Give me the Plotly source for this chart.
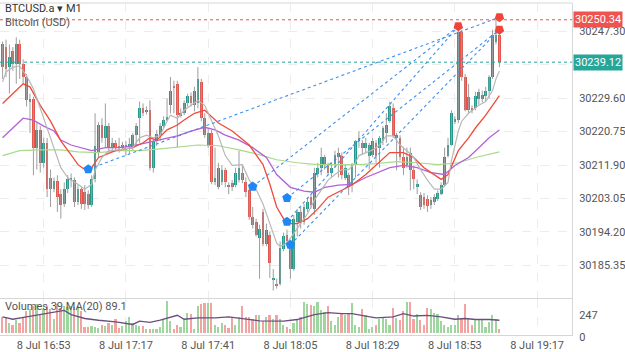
import pandas as pd
import plotly.graph_objects as go

START = "2023-07-08 16:41"

opens = [30243.8,30243.1,30237.8,30242.0,30238.6,30243.8,30238.6,30235.2,30228.7,30229.5,
30216.5,30221.2,30212.5,30217.8,30208.6,30205.5,30207.6,30204.2,30201.6,30205.5,
30207.9,30207.9,30202.1,30205.5,30204.7,30204.2,30201.3,30208.1,30215.2,30222.5,
30219.1,30222.2,30216.5,30217.8,30217.0,30216.5,30216.7,30217.0,30216.5,30219.8,
30224.3,30227.1,30226.1,30226.4,30211.2,30218.3,30219.6,30222.2,30223.8,30227.7,
30232.9,30233.4,30225.1,30225.6,30228.2,30230.3,30227.7,30228.2,30233.9,30224.3,
30217.0,30220.4,30207.3,30206.0,30207.3,30210.5,30206.6,30207.1,30206.6,30207.9,
30209.9,30207.3,30205.2,30198.2,30196.9,30192.5,30199.5,30190.9,30193.5,30181.5,
30180.5,30180.5,30189.6,30193.5,30189.9,30184.4,30196.9,30199.5,30196.9,30200.3,
30203.4,30200.3,30209.4,30211.2,30211.8,30211.8,30209.9,30212.0,30213.9,30214.4,
30208.6,30209.2,30206.6,30211.8,30218.3,30217.8,30216.5,30214.4,30214.6,30217.8,
30216.5,30218.3,30220.4,30223.5,30226.9,30219.1,30219.1,30213.9,30211.8,30215.2,
30210.7,30206.0,30203.9,30203.4,30202.9,30201.3,30202.1,30202.9,30204.2,30206.6,
30214.4,30217.2,30223.5,30223.8,30247.2,30235.2,30230.0,30226.9,30226.9,30229.5,
30229.5,30230.3,30231.6,30235.2,30244.4,30246.4]
highs = [30244.6,30245.1,30243.8,30243.1,30245.7,30245.1,30239.9,30236.0,30230.8,30230.0,
30223.0,30222.2,30219.1,30219.1,30210.7,30208.6,30209.2,30205.5,30207.3,30209.2,
30209.7,30208.6,30206.6,30206.0,30206.6,30205.2,30209.2,30225.6,30223.2,30224.3,
30228.2,30223.0,30219.1,30218.5,30219.1,30218.0,30218.3,30219.1,30220.4,30223.0,
30228.7,30228.2,30227.4,30229.0,30219.1,30221.2,30223.0,30224.8,30229.5,30235.2,
30234.2,30234.2,30226.9,30229.0,30230.8,30231.1,30232.6,30237.8,30234.7,30225.6,
30221.7,30221.2,30216.5,30212.5,30211.8,30211.2,30207.3,30207.9,30211.2,30215.7,
30211.8,30208.6,30206.0,30200.8,30197.7,30196.1,30200.3,30196.4,30194.3,30184.4,
30181.8,30191.7,30194.0,30194.8,30191.2,30198.7,30200.3,30200.8,30201.6,30203.4,
30204.2,30211.2,30212.5,30216.5,30214.6,30212.5,30212.5,30215.7,30216.5,30215.2,
30212.0,30209.9,30212.5,30218.5,30220.9,30218.5,30219.1,30217.8,30219.1,30218.5,
30219.6,30222.2,30225.6,30228.7,30228.2,30220.4,30219.8,30216.5,30216.5,30216.5,
30211.8,30208.1,30204.7,30204.5,30203.9,30203.4,30204.2,30205.2,30207.3,30216.5,
30219.1,30226.4,30224.8,30247.7,30247.7,30236.0,30233.4,30227.7,30231.3,30232.1,
30231.6,30232.6,30235.7,30247.7,30250.34,30247.7]
lows = [30234.7,30235.2,30230.8,30236.8,30233.4,30234.7,30233.4,30227.4,30220.4,30209.2,
30210.7,30209.9,30211.2,30203.4,30200.8,30204.7,30199.5,30197.7,30200.8,30204.5,
30206.0,30200.8,30201.3,30200.3,30200.0,30200.3,30200.8,30207.3,30213.9,30217.8,
30216.5,30215.2,30215.9,30215.7,30215.2,30215.9,30214.4,30214.9,30215.7,30217.2,
30217.8,30224.8,30225.3,30210.5,30209.9,30217.0,30218.3,30221.7,30223.5,30225.6,
30225.6,30216.5,30224.5,30225.1,30227.4,30227.4,30226.1,30226.9,30223.5,30219.1,
30216.5,30206.8,30206.6,30205.5,30206.6,30206.0,30204.2,30205.0,30206.0,30207.3,
30207.1,30203.4,30197.4,30195.1,30193.0,30181.8,30190.4,30190.4,30182.0,30178.7,
30179.2,30180.0,30189.1,30190.4,30181.8,30183.9,30193.0,30195.1,30196.1,30199.5,
30200.3,30198.7,30208.6,30209.2,30210.7,30209.2,30208.6,30211.2,30208.6,30208.1,
30207.9,30203.9,30204.7,30208.6,30216.5,30214.6,30215.2,30210.7,30213.9,30212.5,
30211.2,30217.2,30217.8,30223.0,30219.1,30210.5,30213.1,30209.2,30211.2,30205.2,
30205.5,30204.2,30200.0,30200.3,30199.5,30200.3,30201.3,30202.4,30203.9,30206.0,
30213.9,30217.0,30222.7,30223.0,30234.2,30226.1,30225.6,30225.6,30226.4,30227.9,
30228.5,30228.7,30229.5,30234.7,30243.8,30237.8]
closes = [30237.8,30237.3,30240.4,30238.6,30243.8,30238.6,30235.2,30229.0,30229.5,30216.5,
30221.2,30212.5,30217.8,30205.5,30205.5,30207.6,30203.4,30201.3,30205.5,30208.1,
30208.6,30202.1,30205.5,30201.6,30201.6,30201.3,30208.1,30217.0,30222.5,30219.1,
30222.2,30216.5,30217.8,30216.5,30216.5,30217.2,30217.2,30217.5,30219.8,30222.2,
30227.1,30225.6,30226.4,30211.2,30218.3,30220.1,30222.2,30223.8,30224.5,30231.6,
30232.4,30225.1,30225.6,30228.2,30230.3,30228.2,30231.6,30234.7,30224.3,30219.8,
30220.4,30207.3,30208.6,30211.2,30210.5,30207.3,30206.0,30206.0,30209.9,30211.2,
30207.9,30204.7,30198.2,30196.1,30193.5,30195.1,30190.9,30194.8,30186.0,30181.8,
30180.0,30189.9,30193.0,30191.7,30184.4,30197.7,30199.5,30196.9,30200.8,30202.1,
30201.3,30209.9,30211.2,30213.9,30213.9,30209.9,30211.2,30214.6,30215.2,30209.2,
30211.2,30206.0,30211.8,30218.3,30219.1,30216.5,30217.8,30217.2,30218.3,30214.4,
30219.1,30221.7,30222.5,30227.4,30219.6,30219.8,30213.9,30211.2,30213.9,30210.7,
30208.1,30206.8,30200.8,30201.3,30201.1,30202.6,30203.4,30204.5,30206.6,30213.9,
30217.2,30225.6,30224.0,30247.0,30235.2,30226.4,30226.4,30226.4,30230.3,30231.1,
30230.5,30231.6,30235.2,30246.4,30246.4,30239.12]
volumes = [172,161,107,86,140,107,172,236,258,290,
311,193,258,290,258,150,311,269,290,279,
290,279,290,236,64,64,75,64,54,86,
75,107,86,150,54,75,129,172,107,86,
75,75,43,43,43,43,64,150,354,129,
43,86,64,150,215,204,43,290,311,322,
322,322,86,64,107,86,54,172,86,172,
290,172,172,150,193,193,129,172,193,150,
193,150,86,64,43,107,150,172,333,311,
301,290,333,247,226,290,129,86,172,215,
193,204,322,86,64,258,193,43,64,86,
150,172,150,86,269,161,140,236,333,333,
150,204,140,86,269,258,215,204,129,86,
64,86,86,193,150,311,150,86,150,150,
150,64,118,193,150,39]

# moving averages: candle index -> value
fast_ma_idx = [0,1,3,5,7,9,11,13,15,17,19,20,22,24,26,27,29,31,34,38,40,42,44,46,48,49,51,53,55,57,
59,61,63,65,67,70,72,74,76,78,80,81,83,85,87,89,91,93,95,97,99,101,103,104,106,108,110,112,114,116,
118,120,122,124,126,128,130,131,133,134,136,138,139,141,143,144,145]
fast_ma = [30233.9,30236.5,30237.8,30238.1,30235.5,30232.1,30226.9,30221.7,30216.5,30211.2,
30208.6,30207.9,30206.8,30205.5,30206.8,30210.5,30213.9,30215.7,30215.9,30216.5,
30219.1,30219.8,30219.1,30219.8,30223.5,30225.1,30224.3,30226.4,30227.7,30229.0,
30227.7,30223.5,30219.6,30214.4,30211.8,30212.0,30207.9,30205.5,30201.6,30196.4,
30191.2,30190.4,30191.2,30193.8,30196.4,30199.0,30202.6,30205.2,30207.9,30209.4,
30210.7,30210.7,30212.5,30214.4,30215.2,30215.9,30217.2,30219.6,30219.6,30217.2,
30215.7,30213.9,30210.7,30207.9,30205.5,30205.5,30207.3,30213.1,30220.9,30223.5,
30225.6,30226.9,30227.7,30228.7,30231.6,30234.7,30236.8]
mid_ma_idx = [0,6,8,11,14,17,20,22,24,26,28,33,38,41,43,45,48,51,53,56,59,60,63,67,72,76,78,80,82,84,
86,89,92,95,98,102,106,109,113,117,120,123,126,128,130,133,136,138,141,143,145]
mid_ma = [30228.2,30233.4,30232.6,30227.7,30223.5,30218.3,30214.6,30212.0,30210.7,30211.2,
30213.9,30215.7,30216.5,30217.8,30219.1,30218.5,30221.2,30222.5,30223.8,30225.6,
30226.4,30225.6,30223.0,30220.9,30217.2,30212.0,30206.8,30200.8,30197.7,30196.4,
30196.4,30197.7,30200.3,30203.4,30204.7,30206.6,30209.4,30211.8,30215.2,30215.2,
30213.9,30211.2,30209.2,30208.1,30209.4,30215.7,30219.1,30221.7,30225.1,30227.7,30230.3]
slow_ma_idx = [0,3,6,9,12,15,17,20,23,26,30,34,38,42,45,51,55,59,62,65,69,73,77,80,84,88,91,94,98,102,
106,109,113,117,121,125,129,132,136,139,142,145]
slow_ma = [30219.1,30221.7,30224.3,30223.8,30222.2,30220.9,30218.5,30217.2,30216.5,30215.7,
30216.5,30216.5,30217.0,30217.8,30218.3,30219.6,30220.9,30221.9,30221.2,30219.8,
30218.5,30216.5,30213.9,30209.4,30206.0,30205.0,30204.7,30206.0,30206.6,30206.8,
30208.6,30209.7,30211.2,30211.8,30211.2,30209.9,30209.4,30211.8,30213.9,30216.5,30219.1,30221.2]
long_ma_idx = [0,5,11,17,22,28,34,40,46,51,57,63,69,75,80,86,92,98,104,109,115,121,127,133,138,145]
long_ma = [30214.4,30215.7,30215.9,30215.9,30215.4,30215.2,30215.7,30215.7,30216.2,30216.7,
30217.2,30217.0,30215.9,30214.6,30213.3,30212.5,30212.0,30212.0,30212.0,30212.3,
30212.8,30212.5,30212.0,30212.5,30213.9,30215.4]
vol_ma_idx = [0,3,7,11,15,18,20,24,28,33,38,40,43,46,51,53,57,62,66,70,75,82,86,91,95,99,102,106,109,114,
117,120,124,128,132,135,138,142,145]
vol_ma = [170,145,170,195,223,242,195,153,134,116,88,124,110,134,188,145,159,159,170,153,
127,124,142,195,217,206,206,180,159,170,206,180,188,170,145,153,142,142,134]

# trade signals: entry (buy) -> exit (sell)
sig_entry_idx = [25, 73, 83, 83, 84]
sig_entry_price = [30210.8, 30206.2, 30203.2, 30196.9, 30190.8]
sig_exit_idx = [145, 133, 145, 133, 145]
sig_exit_price = [30251.0, 30248.6, 30247.7, 30248.6, 30247.7]

price_ticks = [30185.35, 30194.20, 30203.05, 30211.90, 30220.75, 30229.60, 30238.45, 30247.30]
price_tick_text = ["30185.35", "30194.20", "30203.05", "30211.90", "30220.75", "30229.60", "", "30247.30"]
time_ticks = ["16:53", "17:17", "17:41", "18:05", "18:29", "18:53", "19:17"]
high_mark = 30250.34
last_price = 30239.12

UP = "#22998a"
DOWN = "#e5534b"
VUP = "#9fd69f"
VDOWN = "#f4a3a3"

times = pd.date_range(START, periods=len(closes), freq="min")

fig = go.Figure()

# wicks
wx, wy = [], []
for t, h, l in zip(times, highs, lows):
    wx += [t, t, None]
    wy += [l, h, None]
fig.add_trace(go.Scatter(x=wx, y=wy, mode="lines", line=dict(color="#9e9e9e", width=1),
                         hoverinfo="skip", yaxis="y"))

# bodies
base = [min(o, c) for o, c in zip(opens, closes)]
hgt = [max(abs(c - o), 0.3) for o, c in zip(opens, closes)]
cols = [UP if c >= o else DOWN for o, c in zip(opens, closes)]
fig.add_trace(go.Bar(x=times, y=hgt, base=base, marker=dict(color=cols, line=dict(width=0)),
                     width=48000, yaxis="y", hoverinfo="skip"))

def mline(idx, vals, color, width, yaxis="y"):
    fig.add_trace(go.Scatter(x=[times[i] for i in idx], y=vals, mode="lines",
                             line=dict(color=color, width=width), yaxis=yaxis, hoverinfo="skip"))

mline(long_ma_idx, long_ma, "#a9d98a", 1.2)
mline(slow_ma_idx, slow_ma, "#b362d6", 1.3)
mline(mid_ma_idx, mid_ma, "#f04a3a", 1.3)
mline(fast_ma_idx, fast_ma, "#b8b8b8", 1.2)

# signal lines
for a, pa, b, pb in zip(sig_entry_idx, sig_entry_price, sig_exit_idx, sig_exit_price):
    fig.add_trace(go.Scatter(x=[times[a], times[b]], y=[pa, pb], mode="lines",
                             line=dict(color="#3d8ff0", width=1.1, dash="3px,3px"),
                             hoverinfo="skip"))
fig.add_trace(go.Scatter(x=[times[i] for i in sig_entry_idx], y=sig_entry_price, mode="markers",
                         marker=dict(symbol="pentagon", size=10, color="#1e88f5"), hoverinfo="skip"))
exits = sorted(set(zip(sig_exit_idx, sig_exit_price)))
fig.add_trace(go.Scatter(x=[times[i] for i, p in exits], y=[p for i, p in exits], mode="markers",
                         marker=dict(symbol="pentagon", size=10, color="#f0443a", angle=180),
                         hoverinfo="skip"))

# volume
vcols = [VUP if c >= o else VDOWN for o, c in zip(opens, closes)]
fig.add_trace(go.Bar(x=times, y=volumes, marker=dict(color=vcols, line=dict(width=0)),
                     width=30000, yaxis="y2", hoverinfo="skip"))
mline(vol_ma_idx, vol_ma, "#6a4e7e", 1.3, yaxis="y2")

x_left = pd.Timestamp("2023-07-08 16:40:15")
x_right = pd.Timestamp("2023-07-08 19:27:11")
FONT = "Roboto"
GRID = "#ececec"
AX = "#d6d6d6"
VDOM = 0.1098

fig.update_layout(
    width=625, height=352, margin=dict(l=0, r=49, t=3, b=12),
    paper_bgcolor="white", plot_bgcolor="white", showlegend=False,
    barmode="overlay", bargap=0,
    font=dict(family=FONT, size=11, color="#555"),
    xaxis=dict(type="date", range=[x_left, x_right], anchor="y2",
               tickvals=[pd.Timestamp("2023-07-08 " + t) for t in time_ticks],
               tickformat="%-d %b %H:%M", showgrid=True, gridcolor=GRID, griddash="dash",
               ticks="", showline=True, linecolor=AX, zeroline=False,
               tickfont=dict(size=11, color="#555", family=FONT)),
    yaxis=dict(domain=[VDOM, 1], range=[30176.57, 30254.78], side="right",
               tickvals=price_ticks, ticktext=price_tick_text,
               showgrid=True, gridcolor=GRID, griddash="dash", ticks="",
               showline=True, linecolor=AX, zeroline=False, ticklabelstandoff=4,
               tickfont=dict(size=11, color="#555", family=FONT)),
    yaxis2=dict(domain=[0, VDOM], range=[-26.9, 370.5], side="right", tickvals=[0, 247],
                showgrid=False, ticks="", showline=True, linecolor=AX, zeroline=False,
                ticklabelstandoff=4, ticklabelshift=5,
                tickfont=dict(size=11, color="#555", family=FONT)),
    shapes=[
        dict(type="line", xref="paper", x0=0, x1=1, yref="y", y0=high_mark, y1=high_mark,
             line=dict(color="#ef5350", width=1, dash="dot")),
        dict(type="line", xref="paper", x0=0, x1=1, yref="y", y0=last_price, y1=last_price,
             line=dict(color="#26a69a", width=1, dash="dot")),
        dict(type="line", xref="paper", x0=0, x1=1, yref="paper", y0=1, y1=1,
             line=dict(color=AX, width=1)),
        dict(type="line", xref="paper", x0=0, x1=1, yref="paper", y0=VDOM, y1=VDOM,
             line=dict(color=AX, width=1)),
    ],
    annotations=[
        dict(text="BTCUSD.a \u25be M1", xref="paper", x=0, xanchor="left", xshift=3,
             yref="paper", y=(340 - 9) / 337, yanchor="middle", showarrow=False,
             font=dict(size=11, color="#333", family=FONT)),
        dict(text="Bitcoin (USD)", xref="paper", x=0, xanchor="left", xshift=3,
             yref="paper", y=(340 - 23) / 337, yanchor="middle", showarrow=False,
             font=dict(size=11, color="#555", family=FONT)),
        dict(text="Volumes 39 MA(20) 89.1", xref="paper", x=0, xanchor="left", xshift=3,
             yref="paper", y=(340 - 311) / 337, yanchor="middle", showarrow=False,
             font=dict(size=11, color="#555", family=FONT)),
        dict(text=f"{high_mark:.2f}", xref="paper", x=1, xanchor="left", xshift=1,
             yref="y", y=high_mark, yanchor="middle", showarrow=False, bgcolor="#ef5350",
             borderpad=1, font=dict(size=11, color="white", family=FONT)),
        dict(text=f"{last_price:.2f}", xref="paper", x=1, xanchor="left", xshift=1,
             yref="y", y=last_price, yanchor="middle", showarrow=False, bgcolor="#26a69a",
             borderpad=1, font=dict(size=11, color="white", family=FONT)),
    ],
)

fig.write_html("out.html")
